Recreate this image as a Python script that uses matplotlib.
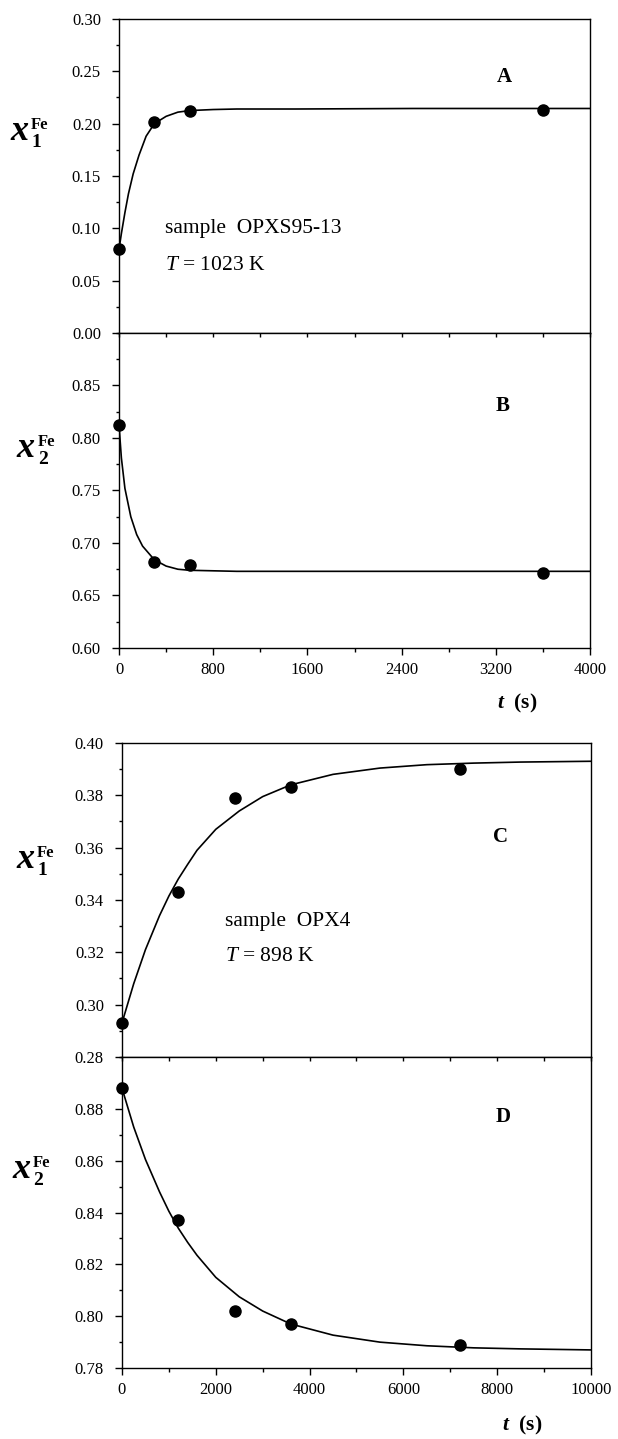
import numpy as np
import matplotlib
matplotlib.use("Agg")
import matplotlib.pyplot as plt
from matplotlib.ticker import MultipleLocator, FormatStrFormatter

plt.rcParams['font.family'] = ['Liberation Serif', 'DejaVu Serif']
plt.rcParams['mathtext.fontset'] = 'custom'
plt.rcParams['mathtext.rm'] = 'Liberation Serif'
plt.rcParams['mathtext.it'] = 'Liberation Serif:italic'
plt.rcParams['mathtext.bf'] = 'Liberation Serif:bold'
plt.rcParams['mathtext.bfit'] = 'Liberation Serif:italic:bold'

#%% data

# sample OPXS95-13, T = 1023 K
t_A = [0, 300, 600, 3600]
x1_A = [0.080, 0.202, 0.212, 0.213]
x2_B = [0.812, 0.682, 0.679, 0.671]

# fitted curves
tc_A = [0, 20, 50, 80, 120, 170, 230, 300, 400, 500, 600, 800, 1000, 1500, 2500, 4000]
c_A = [0.080, 0.095, 0.115, 0.133, 0.152, 0.170, 0.188, 0.200, 0.207, 0.211,
       0.2125, 0.2135, 0.214, 0.214, 0.2145, 0.2145]
tc_B = [0, 20, 50, 100, 150, 200, 300, 400, 500, 600, 800, 1000, 2000, 4000]
c_B = [0.812, 0.781, 0.752, 0.725, 0.708, 0.697, 0.684, 0.678, 0.675, 0.674,
       0.6735, 0.673, 0.673, 0.673]

# sample OPX4, T = 898 K
t_C = [0, 1200, 2400, 3600, 7200]
x1_C = [0.293, 0.343, 0.379, 0.383, 0.390]
x2_D = [0.888, 0.837, 0.802, 0.797, 0.789]

tc_CD = [0, 250, 500, 800, 1000, 1200, 1400, 1600, 2000, 2500, 3000, 3600,
         4500, 5500, 6500, 7500, 8500, 10000]
c_C = [0.293, 0.308, 0.321, 0.334, 0.3415, 0.348, 0.3536, 0.359, 0.367, 0.374,
       0.3795, 0.384, 0.388, 0.3904, 0.3917, 0.3923, 0.3927, 0.393]
c_D = [0.888, 0.873, 0.8605, 0.848, 0.8405, 0.834, 0.8285, 0.8235, 0.815,
       0.8075, 0.802, 0.797, 0.7927, 0.790, 0.7886, 0.7878, 0.7874, 0.787]

#%% figure

W, H = 618, 1439
fig = plt.figure(figsize=(W / 100, H / 100), dpi=100)

axA = fig.add_axes([0.1926, 0.7686, 0.7621, 0.2182])
axB = fig.add_axes([0.1926, 0.5497, 0.7621, 0.2189])
axC = fig.add_axes([0.1974, 0.2655, 0.7589, 0.2182])
axD = fig.add_axes([0.1974, 0.0493, 0.7589, 0.2161])


def style(ax, ylim, ymaj, ymin, xlim, xmaj, xmin, show_x):
    ax.set_ylim(*ylim)
    ax.set_xlim(*xlim)
    ax.yaxis.set_major_locator(MultipleLocator(ymaj))
    ax.yaxis.set_minor_locator(MultipleLocator(ymin))
    ax.yaxis.set_major_formatter(FormatStrFormatter('%.2f'))
    ax.tick_params(axis='y', which='major', direction='out', length=5, width=1,
                   pad=8, labelsize=12, right=False)
    ax.tick_params(axis='y', which='minor', direction='out', length=2.5, width=1,
                   right=False)
    for s in ax.spines.values():
        s.set_linewidth(1.0)
    if show_x:
        ax.xaxis.set_major_locator(MultipleLocator(xmaj))
        ax.xaxis.set_minor_locator(MultipleLocator(xmin))
        ax.tick_params(axis='x', which='major', direction='out', length=5,
                       width=1, pad=5, labelsize=12, top=False)
        ax.tick_params(axis='x', which='minor', direction='out', length=3,
                       width=1, top=False)
        # small ticks on the shared boundary
        sec = ax.secondary_xaxis('top')
        sec.xaxis.set_major_locator(MultipleLocator(xmaj))
        sec.xaxis.set_minor_locator(MultipleLocator(xmin))
        sec.tick_params(axis='x', which='both', direction='in', length=3,
                        width=1, labeltop=False)
        sec.spines['top'].set_visible(False)
    else:
        ax.tick_params(axis='x', which='both', bottom=False, top=False,
                       labelbottom=False)


style(axA, (0.0, 0.30), 0.05, 0.025, (0, 4000), 800, 400, False)
style(axB, (0.60, 0.90), 0.05, 0.025, (0, 4000), 800, 400, True)
axB.set_yticks([0.60, 0.65, 0.70, 0.75, 0.80, 0.85])
style(axC, (0.28, 0.40), 0.02, 0.01, (0, 10000), 2000, 1000, False)
style(axD, (0.78, 0.90), 0.02, 0.01, (0, 10000), 2000, 1000, True)
axD.set_yticks([0.78, 0.80, 0.82, 0.84, 0.86, 0.88])

# curves and points
axA.plot(tc_A, c_A, color='black', lw=1.2)
axA.plot(t_A, x1_A, 'o', color='black', ms=8, clip_on=False)
axB.plot(tc_B, c_B, color='black', lw=1.2)
axB.plot(t_A, x2_B, 'o', color='black', ms=8, clip_on=False)
axC.plot(tc_CD, c_C, color='black', lw=1.2)
axC.plot(t_C, x1_C, 'o', color='black', ms=8, clip_on=False)
axD.plot(tc_CD, c_D, color='black', lw=1.2)
axD.plot(t_C, x2_D, 'o', color='black', ms=8, clip_on=False)


def px(x, y):
    return x / W, 1 - y / H


def ylabel(cx, base, sub):
    # big bold italic x, with Fe above and the site index below
    fig.text(*px(cx, base), 'x', fontsize=26, fontweight='bold',
             fontstyle='italic', ha='center', va='baseline')
    fig.text(*px(cx + 12, base - 11), 'Fe', fontsize=12, fontweight='bold',
             ha='left', va='baseline')
    fig.text(*px(cx + 12, base + 7), sub, fontsize=14, fontweight='bold',
             ha='left', va='baseline')


ylabel(19, 140, '1')
ylabel(26, 457, '2')
ylabel(25, 868, '1')
ylabel(21, 1178, '2')

# panel letters
for ax, letter, lx, ly in [(axA, 'A', 0.819, 0.815), (axB, 'B', 0.815, 0.768),
                           (axC, 'C', 0.806, 0.700), (axD, 'D', 0.812, 0.807)]:
    ax.text(lx, ly, letter, transform=ax.transAxes, fontsize=15,
            fontweight='bold', ha='center', va='center')

# sample annotations
axA.text(0.098, 0.318, 'sample  OPXS95-13', transform=axA.transAxes,
         fontsize=15.5, ha='left', va='baseline')
axA.text(0.098, 0.2006, r'$T$ = 1023 K', transform=axA.transAxes,
         fontsize=15.5, ha='left', va='baseline')
axC.text(0.2196, 0.417, 'sample  OPX4', transform=axC.transAxes,
         fontsize=15.5, ha='left', va='baseline')
axC.text(0.2196, 0.306, r'$T$ = 898 K', transform=axC.transAxes,
         fontsize=15.5, ha='left', va='baseline')

# time labels
fig.text(*px(517, 703), r'$\mathbfit{t}$  (s)', fontsize=15.5,
         fontweight='bold', ha='center', va='center')
fig.text(*px(522, 1425), r'$\mathbfit{t}$  (s)', fontsize=15.5,
         fontweight='bold', ha='center', va='center')

fig.savefig('out.png', dpi=100)
